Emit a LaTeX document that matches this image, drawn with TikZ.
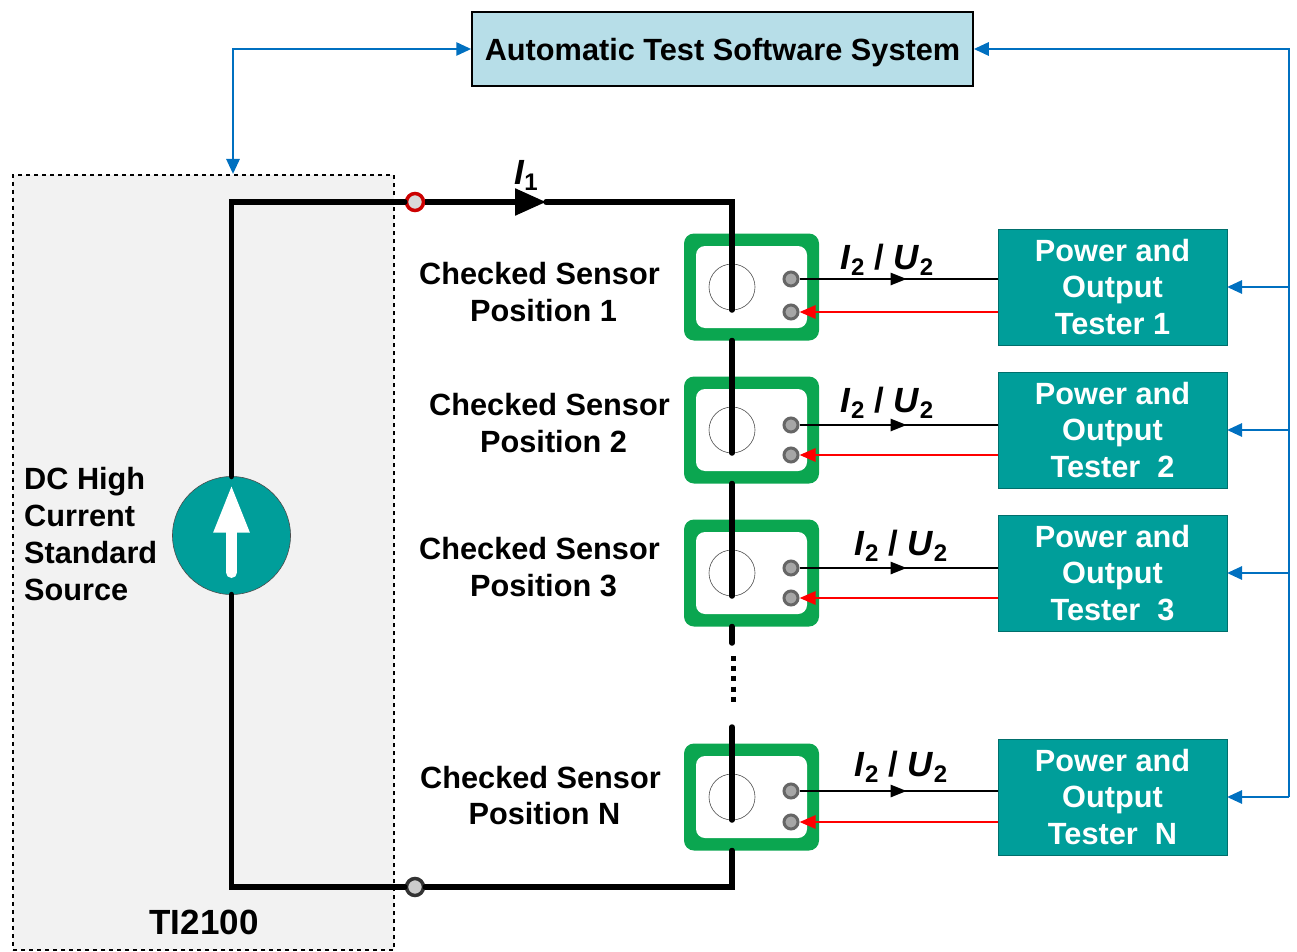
\documentclass[tikz,border=0pt]{standalone}
\usepackage{fontspec}
\setmainfont{Liberation Sans}
\usetikzlibrary{arrows.meta, positioning, calc, decorations.markings}
\definecolor{atsblue}{HTML}{B7DEE8}
\definecolor{linkblue}{HTML}{0070C0}
\definecolor{tealbox}{HTML}{009E9A}
\definecolor{sensorgreen}{HTML}{0BA650}
\definecolor{panelgray}{HTML}{F2F2F2}
\newcommand{\signame}[2]{\textit{#1}\raisebox{-6pt}{\fontsize{24}{24}\selectfont #2}}

\begin{document}
\begin{tikzpicture}[
    x=1pt, y=-1pt,
    node distance=36pt,
    lbl/.style={font=\bfseries\fontsize{30.7}{36.8}\selectfont, align=center, inner sep=0pt},
    sig/.style={font=\bfseries\fontsize{35}{35}\selectfont, inner sep=0pt},
    sensor/.style={rectangle, fill=sensorgreen, rounded corners=10pt, minimum width=135pt, minimum height=107pt, outer sep=0pt},
    window/.style={rectangle, fill=white, rounded corners=9pt, minimum width=111pt, minimum height=82pt},
    hole/.style={circle, draw=black!70, line width=0.6pt, minimum size=46pt, inner sep=0pt, outer sep=0pt},
    term/.style={circle, fill=black!35, draw=black!60, line width=3pt, minimum size=14pt, inner sep=0pt},
    tester/.style={rectangle, draw=tealbox!70!black, fill=tealbox, text=white, minimum width=229pt, minimum height=116pt, outer sep=0pt, lbl},
    wire/.style={line width=5.5pt, line cap=round},
    link/.style={draw=linkblue, line width=2.8pt, -{Triangle[length=15pt,width=13pt]}},
    signal/.style={line width=2.5pt, decoration={markings, mark=at position 0.54 with {\arrow{Triangle[length=16pt,width=12pt]}}}, postaction={decorate}},
    back/.style={draw=red, line width=2.8pt, -{Triangle[length=16pt,width=13pt]}}]
    \useasboundingbox (0,0) rectangle (1297,952);
    % Nodes
    \node[rectangle, draw, line width=1.5pt, fill=atsblue, minimum width=501pt, minimum height=74pt, text depth=0pt, font=\bfseries\fontsize{30.7}{36}\selectfont] (ats) at (722.5,49) {Automatic Test Software System};
    \node[rectangle, draw, fill=panelgray, line width=2.5pt, dash pattern=on 4pt off 4pt, minimum width=381pt, minimum height=775pt] (ti) at (203.5,562.5) {};
    \node[lbl, align=left, anchor=west] (dcname) at (24,534) {DC High\\Current\\Standard\\Source};
    \node[lbl, font=\bfseries\fontsize{35}{40}\selectfont] (tiname) at (204,922) {TI2100};
    \node[circle, fill=tealbox, draw=black!70, line width=0.6pt, minimum size=118pt, inner sep=0pt, outer sep=0pt] (source) at (231.5,535.5) {};
    \node[circle, fill=black!15, draw=red!80!black, line width=3.5pt, minimum size=17pt, inner sep=0pt] (outtop) at (415,202) {};
    \node[circle, fill=black!20, draw=black!80, line width=3.5pt, minimum size=17pt, inner sep=0pt] (outbot) at (415,887) {};

    \node[sensor] (sensor1) at (751.5,287) {};
    \node[sensor, below=of sensor1] (sensor2) {};
    \node[sensor, below=of sensor2] (sensor3) {};
    \node[sensor, below=117pt of sensor3] (sensorN) {};
    \node[window] (win1) at (sensor1) {};
    \node[window] (win2) at (sensor2) {};
    \node[window] (win3) at (sensor3) {};
    \node[window] (winN) at (sensorN) {};
    \node[hole] (hole1) at ([xshift=-19.5pt]sensor1.center) {};
    \node[hole] (hole2) at ([xshift=-19.5pt]sensor2.center) {};
    \node[hole] (hole3) at ([xshift=-19.5pt]sensor3.center) {};
    \node[hole] (holeN) at ([xshift=-19.5pt]sensorN.center) {};
    \node[term] (a1) at ([xshift=39.5pt,yshift=8pt]sensor1.center) {};
    \node[term] (b1) at ([xshift=39.5pt,yshift=-25pt]sensor1.center) {};
    \node[term] (a2) at ([xshift=39.5pt,yshift=5pt]sensor2.center) {};
    \node[term] (b2) at ([xshift=39.5pt,yshift=-25pt]sensor2.center) {};
    \node[term] (a3) at ([xshift=39.5pt,yshift=5pt]sensor3.center) {};
    \node[term] (b3) at ([xshift=39.5pt,yshift=-25pt]sensor3.center) {};
    \node[term] (aN) at ([xshift=39.5pt,yshift=6pt]sensorN.center) {};
    \node[term] (bN) at ([xshift=39.5pt,yshift=-25pt]sensorN.center) {};

    \node[lbl, left=24pt of sensor1, yshift=-5pt] (pos1) {Checked Sensor\\\hspace*{8pt}Position 1};
    \node[lbl, left=14pt of sensor2, yshift=7pt] (pos2) {Checked Sensor\\\hspace*{8pt}Position 2};
    \node[lbl, left=24pt of sensor3, yshift=6pt] (pos3) {Checked Sensor\\\hspace*{8pt}Position 3};
    \node[lbl, left=23pt of sensorN, yshift=1.5pt] (posN) {Checked Sensor\\\hspace*{8pt}Position N};

    \node[tester] (tester1) at (1112.5,287) {Power and\\Output\\Tester 1};
    \node[tester, below=27pt of tester1] (tester2) {Power and\\Output\\Tester\ \ 2};
    \node[tester, below=27pt of tester2] (tester3) {Power and\\Output\\Tester\ \ 3};
    \node[tester, below=108pt of tester3] (testerN) {Power and\\Output\\Tester\ \ N};

    \node[sig] (cur1) at (526,175) {\signame{I}{1}};
    \node[sig] (sig1) at (887,260) {\signame{I}{2} / \signame{U}{2}};
    \node[sig] (sig2) at (887,403) {\signame{I}{2} / \signame{U}{2}};
    \node[sig] (sig3) at (901,546) {\signame{I}{2} / \signame{U}{2}};
    \node[sig] (sigN) at (901,767) {\signame{I}{2} / \signame{U}{2}};

    \coordinate (busend) at (1289,797);
    \coordinate (tiport) at (233,174);
    \coordinate (i1tip) at (546,202);
    \coordinate (stub) at (732,643);
    \coordinate (dotstart) at (733.5,656);
    \coordinate (dotend) at (733.5,702);
    \coordinate (stubN) at (732,727);

    % Arrows
    \draw[link, {Triangle[length=15pt,width=13pt]}-{Triangle[length=15pt,width=13pt]}] (ats) -| (tiport);
    \draw[link] (busend) |- (ats);
    \draw[link] (tester1 -| busend) -- (tester1);
    \draw[link] (tester2 -| busend) -- (tester2);
    \draw[link] (tester3 -| busend) -- (tester3);
    \draw[link] (busend) -- (testerN);

    \draw[wire] (source.north) |- (outtop);
    \draw[wire] (source.south) |- (outbot);
    \draw[wire, line cap=butt, -{Triangle[length=31pt,width=26pt]}] (outtop) -- (i1tip);
    \draw[wire] (i1tip) -| (hole1.south);
    \draw[wire] (hole1 |- sensor1.south) -- (hole2.south);
    \draw[wire] (hole2 |- sensor2.south) -- (hole3.south);
    \draw[wire] (hole3 |- sensor3.south) -- (stub);
    \draw[line width=5pt, dash pattern=on 5pt off 5.2pt] (dotstart) -- (dotend);
    \draw[wire] (stubN) -- (holeN.south);
    \draw[wire] (outbot) -| (holeN |- sensorN.south);
    \draw[white, line width=11pt, line cap=round, -{Triangle[length=48pt,width=33pt]}] ([yshift=-37pt]source.center) -- ([yshift=51pt]source.center);

    \draw[signal] (a1) -- (tester1.west |- a1);
    \draw[signal] (a2) -- (tester2.west |- a2);
    \draw[signal] (a3) -- (tester3.west |- a3);
    \draw[signal] (aN) -- (testerN.west |- aN);
    \draw[back] (tester1.west |- b1) -- (b1);
    \draw[back] (tester2.west |- b2) -- (b2);
    \draw[back] (tester3.west |- b3) -- (b3);
    \draw[back] (testerN.west |- bN) -- (bN);

\end{tikzpicture}
\end{document}
